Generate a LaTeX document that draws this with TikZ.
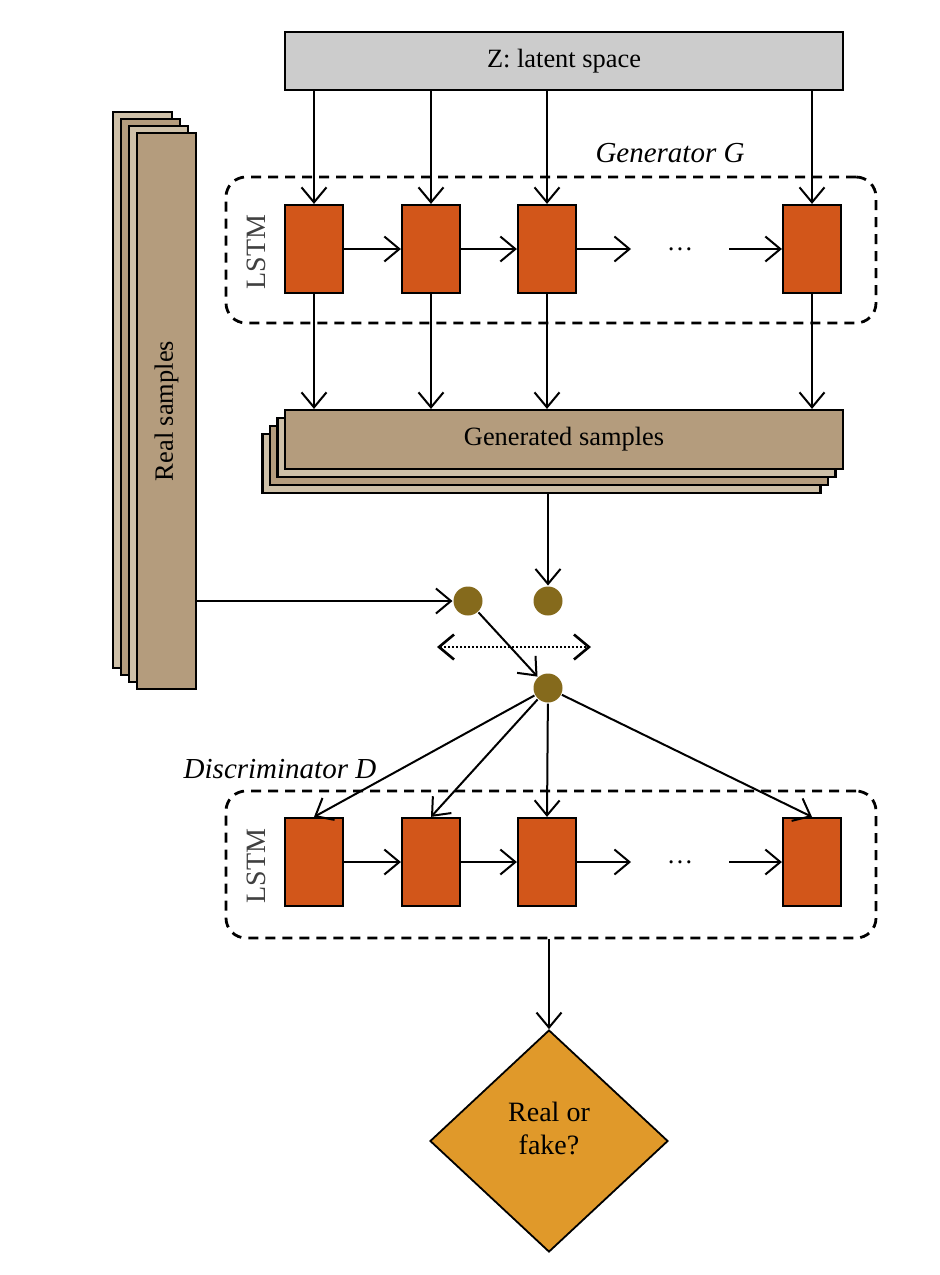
\documentclass[tikz,border=0pt]{standalone}
\usepackage{fontspec}
\setmainfont{Liberation Serif}
\usetikzlibrary{shapes.geometric,arrows.meta}

\definecolor{zgray}{RGB}{204,204,204}
\definecolor{cellorange}{RGB}{210,86,26}
\definecolor{sampletan}{RGB}{180,156,125}
\definecolor{samplelight}{RGB}{206,192,168}
\definecolor{mixolive}{RGB}{133,106,28}
\definecolor{decision}{RGB}{224,153,42}

\begin{document}
\begin{tikzpicture}[x=0.5pt, y=-0.5pt, >={Straight Barb[length=7.5pt,width=12.5pt]},
    every node/.style={font=\fontsize{13.2}{15}\selectfont},
    every path/.style={line width=1pt},
    lstmcell/.style={draw, rectangle, fill=cellorange, line width=1.1pt, minimum width=29pt, minimum height=44pt, inner sep=0pt},
    lstmgroup/.style={draw, rectangle, rounded corners=10pt, line width=1.4pt, dash pattern=on 5pt off 3.5pt, minimum width=325pt, minimum height=73pt},
    samplesheet/.style={draw, rectangle, line width=1.1pt, inner sep=0pt},
    mixdot/.style={circle, fill=mixolive, minimum size=14.5pt, inner sep=0pt},
    grouplabel/.style={font=\fontsize{14.5}{17}\selectfont\itshape},
    lstmlabel/.style={rotate=90, text=black!75, font=\fontsize{14}{16}\selectfont}]
    \useasboundingbox (0,0) rectangle (939,1275);

    % latent space
    \node (zspace) [draw, rectangle, fill=zgray, line width=1.2pt, minimum width=279pt, minimum height=29pt] at (564,61) {Z: latent space};

    % real samples stack
    \foreach \k/\c in {3/samplelight, 2/sampletan, 1/samplelight}
      \node (real\k) [samplesheet, fill=\c, minimum width=29.5pt, minimum height=278pt] at ({166.5-8*\k},{411-7*\k}) {};
    \node (real) [samplesheet, fill=sampletan, minimum width=29.5pt, minimum height=278pt] at (166.5,411) {};
    \node (realtext) [rotate=90] at (real) {Real samples};

    % generator
    \node (ggroup) [lstmgroup] at (551,250) {};
    \node (glabel) [grouplabel] at (670,153) {Generator G};
    \node (glstm) [lstmlabel] at (256,252) {LSTM};
    \node (g1) [lstmcell] at (314,249) {};
    \node (g2) [lstmcell] at (431,249) {};
    \node (g3) [lstmcell] at (547,249) {};
    \node (gdots) [minimum width=48pt, inner sep=0pt] at (680,249) {\ldots};
    \node (g4) [lstmcell] at (812,249) {};

    % generated samples stack
    \foreach \k/\c in {3/samplelight, 2/sampletan, 1/samplelight}
      \node (gen\k) [samplesheet, fill=\c, minimum width=279pt, minimum height=29.5pt] at ({564-7.5*\k},{439.5+8*\k}) {};
    \node (gen) [samplesheet, fill=sampletan, minimum width=279pt, minimum height=29.5pt] at (564,439.5) {Generated samples};

    \foreach \i in {1,2,3,4} {
      \draw[->] (g\i |- zspace.south) -- (g\i);
      \draw[->] (g\i) -- (g\i |- gen.north);
    }
    \draw[->] (g1) -- (g2);
    \draw[->] (g2) -- (g3);
    \draw[->] (g3) -- (gdots);
    \draw[->] (gdots) -- (g4);

    % mixing
    \node (c1) [mixdot] at (468,601) {};
    \node (c2) [mixdot] at (548,601) {};
    \node (c3) [mixdot] at (548,688) {};
    \coordinate (swapl) at (437,647);
    \coordinate (swapr) at (591,647);
    \draw[->] (real.east |- c1) -- (c1);
    \draw[->] (c2 |- gen3.south) -- (c2);
    \draw[->] (c1) -- (c3);
    \draw[<->, line width=1.3pt, dash pattern=on 1pt off 1pt] (swapl) -- (swapr);

    % discriminator
    \node (dgroup) [lstmgroup, minimum height=73.5pt] at (551,864.5) {};
    \node (dlabel) [grouplabel] at (280,769) {Discriminator D};
    \node (dlstm) [lstmlabel] at (256,866) {LSTM};
    \node (d1) [lstmcell] at (314,862) {};
    \node (d2) [lstmcell] at (431,862) {};
    \node (d3) [lstmcell] at (547,862) {};
    \node (ddots) [minimum width=48pt, inner sep=0pt] at (680,862) {\ldots};
    \node (d4) [lstmcell] at (812,862) {};
    \foreach \i in {1,2,3,4}
      \draw[->] (c3) -- (d\i.north);
    \draw[->] (d1) -- (d2);
    \draw[->] (d2) -- (d3);
    \draw[->] (d3) -- (ddots);
    \draw[->] (ddots) -- (d4);

    % decision
    \node (verdict) [diamond, draw, fill=decision, line width=0.9pt, minimum width=119pt, minimum height=111pt, inner sep=0pt] at (549,1141) {};
    \node (verdicttext) [align=center, font=\fontsize{14}{16.5}\selectfont] at (549,1128) {Real or\\fake?};
    \draw[->] (verdict |- dgroup.south) -- (verdict);
\end{tikzpicture}
\end{document}
